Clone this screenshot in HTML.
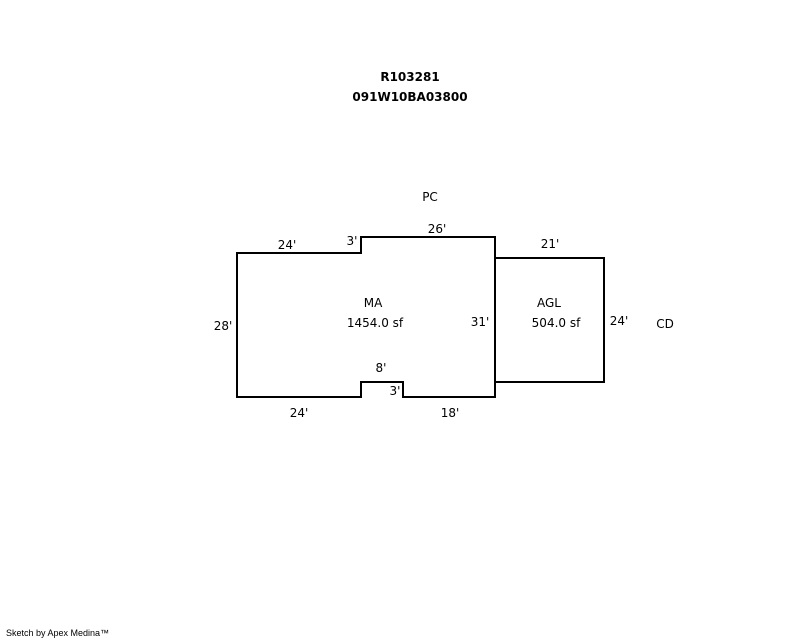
<!DOCTYPE html>
<html><head><meta charset="utf-8"><style>
html,body{margin:0;padding:0;background:#fff;}
svg{display:block}
text{font-family:"DejaVu Sans","Liberation Sans",sans-serif;font-size:12px;fill:#000}
</style></head><body>
<svg width="800" height="640" viewBox="0 0 800 640" xmlns="http://www.w3.org/2000/svg">
<text x="410" y="81" text-anchor="middle" font-weight="bold">R103281</text>
<text x="410" y="101" text-anchor="middle" font-weight="bold">091W10BA03800</text>
<text x="430" y="201" text-anchor="middle">PC</text>
<path d="M237,253 H361 V237 H495 V397 H403 V382 H361 V397 H237 Z" fill="none" stroke="#000" stroke-width="2"/>
<rect x="495" y="258" width="109" height="124" fill="none" stroke="#000" stroke-width="2"/>
<text x="287" y="249" text-anchor="middle">24'</text>
<text x="352" y="245" text-anchor="middle">3'</text>
<text x="437" y="233" text-anchor="middle">26'</text>
<text x="550" y="248" text-anchor="middle">21'</text>
<text x="223" y="330" text-anchor="middle">28'</text>
<text x="373" y="307" text-anchor="middle">MA</text>
<text x="375" y="327" text-anchor="middle">1454.0 sf</text>
<text x="480" y="326" text-anchor="middle">31'</text>
<text x="549" y="307" text-anchor="middle">AGL</text>
<text x="556" y="327" text-anchor="middle">504.0 sf</text>
<text x="619" y="325" text-anchor="middle">24'</text>
<text x="665" y="328" text-anchor="middle">CD</text>
<text x="381" y="372" text-anchor="middle">8'</text>
<text x="395" y="395" text-anchor="middle">3'</text>
<text x="299" y="417" text-anchor="middle">24'</text>
<text x="450" y="417" text-anchor="middle">18'</text>
<text x="6" y="636" style="font-family:'Liberation Sans',sans-serif;font-size:9px">Sketch by Apex Medina™</text>
</svg>
</body></html>
